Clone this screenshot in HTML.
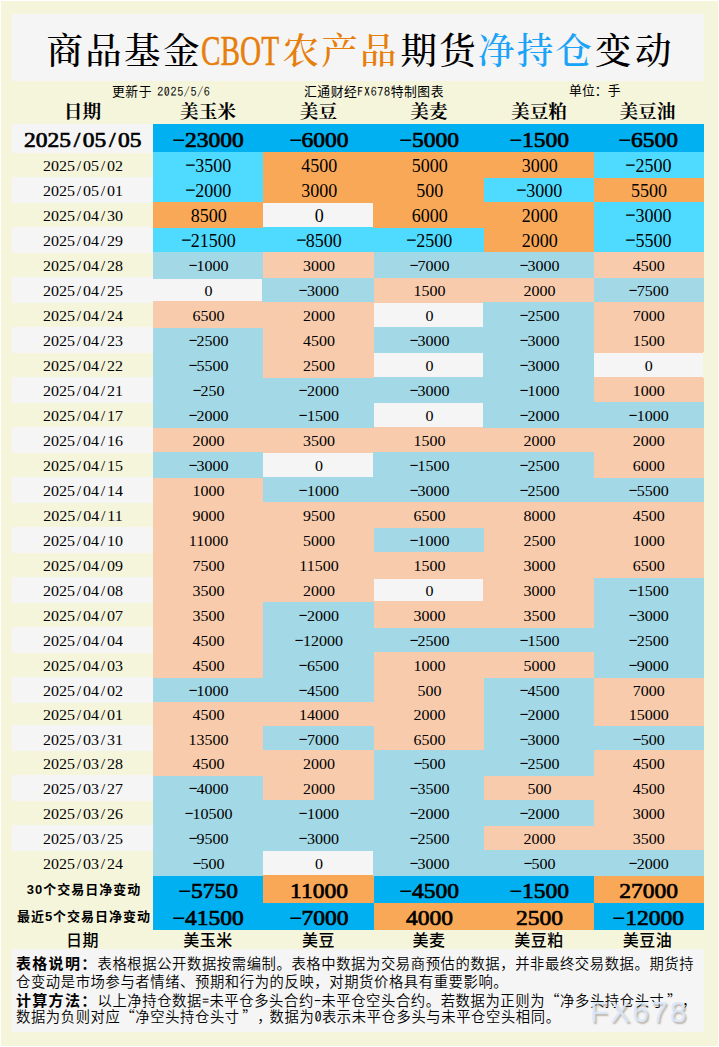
<!DOCTYPE html>
<html lang="zh-CN"><head><meta charset="utf-8"><title>商品基金CBOT农产品期货净持仓变动</title>
<style>
html,body{margin:0;padding:0}
body{width:719px;height:1047px;position:relative;overflow:hidden;background:#fff;color:#000;font-family:"Liberation Serif","Noto Serif CJK SC",serif}
#bg{position:absolute;left:1px;top:1px;width:717px;height:1045px;background:#f5f5dc}
.p{position:absolute;background:#f5f5f5}
.g{position:absolute}
.c{position:absolute;text-align:center;white-space:nowrap}
.t{position:absolute;white-space:nowrap}
.title{font-family:"Liberation Serif","Noto Serif CJK SC",serif;font-size:38.5px;line-height:44px;font-weight:500}
.sub{font-family:"Liberation Sans","Noto Sans CJK SC",sans-serif;font-size:12.8px;letter-spacing:.53px;line-height:16px}
.mo{font-family:"IPAGothic","Liberation Mono",monospace;font-size:12px;letter-spacing:.67px;margin-left:-1.5px}
u{text-decoration:none;font-family:"IPAGothic","Liberation Mono",monospace;line-height:0}
i{font-style:normal;display:inline-block;text-align:center;line-height:0}
.lab{font-family:"Liberation Serif","Noto Serif CJK SC",serif;font-weight:700;font-size:18.67px;line-height:22px}
.lab2{font-family:"Liberation Sans","Noto Sans CJK SC",sans-serif;font-weight:500;font-size:16px;letter-spacing:.5px;line-height:20px}
.h{font-weight:400;-webkit-text-stroke:.75px #000;font-size:23.5px}
.h u{-webkit-text-stroke:0;display:inline-block;width:11.75px;transform:scaleX(1.15);position:relative;top:1.5px}
.n1 u{display:inline-block;width:9px;transform:scaleX(1.2)}
.n u{display:inline-block;width:8px;transform:scaleX(1.15)}
.h i{width:11.75px}
.d{font-size:16px}
.d i{width:8px}
.n{font-size:16px}
.n1{font-size:18px}
.s{font-family:"Liberation Sans","Noto Sans CJK SC",sans-serif;font-weight:700;font-size:13px;letter-spacing:1px}
.B{background:#00b0f0}.C{background:#4fdbff}.O{background:#f9a857}.L{background:#a3d8e6}.P{background:#f8cbad}.W{background:#f5f5f5}.Y{background:#f5f5dc}
.note{text-spacing-trim:space-all;font-family:"Liberation Sans","Noto Sans CJK SC",sans-serif;font-size:14.3px;font-weight:350;line-height:18px;letter-spacing:.62px}
.note b{font-weight:700;font-size:15px;letter-spacing:1.3px}
.note u{display:inline-block;width:7.5px;text-align:center;letter-spacing:0}
q{line-height:0;quotes:none;font-family:"Noto Sans CJK SC",sans-serif;font-feature-settings:"fwid"}
q:before,q:after{content:none}
q.cl{position:relative;left:2.5px}
.wm{font-family:"Liberation Sans",sans-serif;font-size:30px;line-height:34px;letter-spacing:2px;color:rgba(216,231,250,.94);text-shadow:1.5px 1.5px 1.5px rgba(115,95,75,.42)}
</style></head><body>
<div id="bg"></div>

<div class="p" style="left:12px;top:14px;width:692px;height:67px"></div>
<div id="t1" class="t title" style="left:46.5px;top:30.4px;color:#000;font-size:36.5px;letter-spacing:2.3px">商品基金</div>
<div id="t2" class="t title" style="left:201px;top:29.4px;color:#e67f0b;font-size:41.5px;letter-spacing:0px;transform:scaleX(0.705);transform-origin:0 0;-webkit-text-stroke:.5px #e67f0b">CBOT</div>
<div id="t3" class="t title" style="left:282.5px;top:30.4px;color:#e67f0b;font-size:36.5px;letter-spacing:2.3px">农产品</div>
<div id="t4" class="t title" style="left:400.5px;top:30.4px;color:#000;font-size:36.5px;letter-spacing:2.3px">期货</div>
<div id="t5" class="t title" style="left:478.0px;top:30.4px;color:#1aa3f8;font-size:36.5px;letter-spacing:2.3px">净持仓</div>
<div id="t6" class="t title" style="left:595px;top:30.4px;color:#000;font-size:36.5px;letter-spacing:3.5px">变动</div>
<div id="s1" class="t sub" style="left:112px;top:83px">更新于<span class="mo"> 2025/5/6</span></div>
<div id="s2" class="t sub" style="left:304px;top:83px">汇通财经<span class="mo" style="margin:0">FX678</span>特制图表</div>
<div id="s3" class="t sub" style="left:569px;top:83px;letter-spacing:.1px">单位：手</div>
<div id="tl0" class="c lab" style="left:12px;top:101px;width:141px">日期</div>
<div id="tl1" class="c lab" style="left:153px;top:101px;width:110px">美玉米</div>
<div id="tl2" class="c lab" style="left:263px;top:101px;width:111px">美豆</div>
<div id="tl3" class="c lab" style="left:374px;top:101px;width:110px">美麦</div>
<div id="tl4" class="c lab" style="left:484px;top:101px;width:110px">美豆粕</div>
<div id="tl5" class="c lab" style="left:592.4px;top:101px;width:110px">美豆油</div>
<div class="g W" style="left:12px;top:124px;width:141px;height:29px"></div>
<div class="g B" style="left:153px;top:124px;width:551px;height:28px"></div>
<div class="g C" style="left:153px;top:152px;width:110px;height:26px"></div>
<div class="g O" style="left:263px;top:152px;width:331px;height:26px"></div>
<div class="g C" style="left:594px;top:152px;width:110px;height:26px"></div>
<div class="g W" style="left:12px;top:177px;width:141px;height:26px"></div>
<div class="g C" style="left:153px;top:178px;width:110px;height:24px"></div>
<div class="g O" style="left:263px;top:178px;width:221px;height:24px"></div>
<div class="g C" style="left:484px;top:178px;width:110px;height:24px"></div>
<div class="g O" style="left:594px;top:178px;width:110px;height:24px"></div>
<div class="g O" style="left:153px;top:202px;width:110px;height:26px"></div>
<div class="g O" style="left:263px;top:202px;width:111px;height:1px"></div>
<div class="g C" style="left:263px;top:227px;width:111px;height:1px"></div>
<div class="g O" style="left:373px;top:202px;width:1px;height:26px"></div>
<div class="g W" style="left:263px;top:203px;width:110px;height:24px"></div>
<div class="g O" style="left:374px;top:202px;width:220px;height:26px"></div>
<div class="g C" style="left:594px;top:202px;width:110px;height:26px"></div>
<div class="g W" style="left:12px;top:227px;width:141px;height:26px"></div>
<div class="g C" style="left:153px;top:228px;width:331px;height:24px"></div>
<div class="g O" style="left:484px;top:228px;width:110px;height:24px"></div>
<div class="g C" style="left:594px;top:228px;width:110px;height:24px"></div>
<div class="g L" style="left:153px;top:252px;width:110px;height:26px"></div>
<div class="g P" style="left:263px;top:252px;width:111px;height:26px"></div>
<div class="g L" style="left:374px;top:252px;width:220px;height:26px"></div>
<div class="g P" style="left:594px;top:252px;width:110px;height:26px"></div>
<div class="g W" style="left:12px;top:277px;width:141px;height:26px"></div>
<div class="g L" style="left:153px;top:278px;width:110px;height:1px"></div>
<div class="g P" style="left:153px;top:301px;width:110px;height:1px"></div>
<div class="g L" style="left:262px;top:278px;width:1px;height:24px"></div>
<div class="g W" style="left:153px;top:279px;width:109px;height:22px"></div>
<div class="g L" style="left:263px;top:278px;width:111px;height:24px"></div>
<div class="g P" style="left:374px;top:278px;width:220px;height:24px"></div>
<div class="g L" style="left:594px;top:278px;width:110px;height:24px"></div>
<div class="g P" style="left:153px;top:302px;width:221px;height:26px"></div>
<div class="g P" style="left:374px;top:302px;width:110px;height:1px"></div>
<div class="g L" style="left:374px;top:327px;width:110px;height:1px"></div>
<div class="g L" style="left:483px;top:302px;width:1px;height:26px"></div>
<div class="g W" style="left:374px;top:303px;width:109px;height:24px"></div>
<div class="g L" style="left:484px;top:302px;width:110px;height:26px"></div>
<div class="g P" style="left:594px;top:302px;width:110px;height:26px"></div>
<div class="g W" style="left:12px;top:327px;width:141px;height:26px"></div>
<div class="g L" style="left:153px;top:328px;width:110px;height:24px"></div>
<div class="g P" style="left:263px;top:328px;width:111px;height:24px"></div>
<div class="g L" style="left:374px;top:328px;width:220px;height:24px"></div>
<div class="g P" style="left:594px;top:328px;width:110px;height:24px"></div>
<div class="g L" style="left:153px;top:352px;width:110px;height:26px"></div>
<div class="g P" style="left:263px;top:352px;width:111px;height:26px"></div>
<div class="g L" style="left:374px;top:352px;width:110px;height:1px"></div>
<div class="g L" style="left:374px;top:377px;width:110px;height:1px"></div>
<div class="g L" style="left:483px;top:352px;width:1px;height:26px"></div>
<div class="g W" style="left:374px;top:353px;width:109px;height:24px"></div>
<div class="g L" style="left:484px;top:352px;width:110px;height:26px"></div>
<div class="g P" style="left:594px;top:352px;width:110px;height:1px"></div>
<div class="g P" style="left:594px;top:377px;width:110px;height:1px"></div>
<div class="g Y" style="left:703px;top:352px;width:1px;height:26px"></div>
<div class="g W" style="left:594px;top:353px;width:109px;height:24px"></div>
<div class="g W" style="left:12px;top:377px;width:141px;height:26px"></div>
<div class="g L" style="left:153px;top:378px;width:441px;height:24px"></div>
<div class="g P" style="left:594px;top:378px;width:110px;height:24px"></div>
<div class="g L" style="left:153px;top:402px;width:221px;height:26px"></div>
<div class="g L" style="left:374px;top:402px;width:110px;height:1px"></div>
<div class="g P" style="left:374px;top:427px;width:110px;height:1px"></div>
<div class="g L" style="left:483px;top:402px;width:1px;height:26px"></div>
<div class="g W" style="left:374px;top:403px;width:109px;height:24px"></div>
<div class="g L" style="left:484px;top:402px;width:220px;height:26px"></div>
<div class="g W" style="left:12px;top:427px;width:141px;height:26px"></div>
<div class="g P" style="left:153px;top:428px;width:551px;height:24px"></div>
<div class="g L" style="left:153px;top:452px;width:110px;height:26px"></div>
<div class="g P" style="left:263px;top:452px;width:111px;height:1px"></div>
<div class="g L" style="left:263px;top:477px;width:111px;height:1px"></div>
<div class="g L" style="left:373px;top:452px;width:1px;height:26px"></div>
<div class="g W" style="left:263px;top:453px;width:110px;height:24px"></div>
<div class="g L" style="left:374px;top:452px;width:220px;height:26px"></div>
<div class="g P" style="left:594px;top:452px;width:110px;height:26px"></div>
<div class="g W" style="left:12px;top:477px;width:141px;height:26px"></div>
<div class="g P" style="left:153px;top:478px;width:110px;height:24px"></div>
<div class="g L" style="left:263px;top:478px;width:441px;height:24px"></div>
<div class="g P" style="left:153px;top:502px;width:551px;height:26px"></div>
<div class="g W" style="left:12px;top:527px;width:141px;height:26px"></div>
<div class="g P" style="left:153px;top:528px;width:221px;height:24px"></div>
<div class="g L" style="left:374px;top:528px;width:110px;height:24px"></div>
<div class="g P" style="left:484px;top:528px;width:220px;height:24px"></div>
<div class="g P" style="left:153px;top:552px;width:551px;height:26px"></div>
<div class="g W" style="left:12px;top:577px;width:141px;height:26px"></div>
<div class="g P" style="left:153px;top:578px;width:221px;height:24px"></div>
<div class="g P" style="left:374px;top:578px;width:110px;height:1px"></div>
<div class="g P" style="left:374px;top:601px;width:110px;height:1px"></div>
<div class="g P" style="left:483px;top:578px;width:1px;height:24px"></div>
<div class="g W" style="left:374px;top:579px;width:109px;height:22px"></div>
<div class="g P" style="left:484px;top:578px;width:110px;height:24px"></div>
<div class="g L" style="left:594px;top:578px;width:110px;height:24px"></div>
<div class="g P" style="left:153px;top:602px;width:110px;height:26px"></div>
<div class="g L" style="left:263px;top:602px;width:111px;height:26px"></div>
<div class="g P" style="left:374px;top:602px;width:220px;height:26px"></div>
<div class="g L" style="left:594px;top:602px;width:110px;height:26px"></div>
<div class="g W" style="left:12px;top:627px;width:141px;height:26px"></div>
<div class="g P" style="left:153px;top:628px;width:110px;height:24px"></div>
<div class="g L" style="left:263px;top:628px;width:441px;height:24px"></div>
<div class="g P" style="left:153px;top:652px;width:110px;height:26px"></div>
<div class="g L" style="left:263px;top:652px;width:111px;height:26px"></div>
<div class="g P" style="left:374px;top:652px;width:220px;height:26px"></div>
<div class="g L" style="left:594px;top:652px;width:110px;height:26px"></div>
<div class="g W" style="left:12px;top:677px;width:141px;height:26px"></div>
<div class="g L" style="left:153px;top:678px;width:221px;height:24px"></div>
<div class="g P" style="left:374px;top:678px;width:110px;height:24px"></div>
<div class="g L" style="left:484px;top:678px;width:110px;height:24px"></div>
<div class="g P" style="left:594px;top:678px;width:110px;height:24px"></div>
<div class="g P" style="left:153px;top:702px;width:331px;height:24px"></div>
<div class="g L" style="left:484px;top:702px;width:110px;height:24px"></div>
<div class="g P" style="left:594px;top:702px;width:110px;height:24px"></div>
<div class="g W" style="left:12px;top:725px;width:141px;height:26px"></div>
<div class="g P" style="left:153px;top:726px;width:110px;height:24px"></div>
<div class="g L" style="left:263px;top:726px;width:111px;height:24px"></div>
<div class="g P" style="left:374px;top:726px;width:110px;height:24px"></div>
<div class="g L" style="left:484px;top:726px;width:220px;height:24px"></div>
<div class="g P" style="left:153px;top:750px;width:221px;height:26px"></div>
<div class="g L" style="left:374px;top:750px;width:220px;height:26px"></div>
<div class="g P" style="left:594px;top:750px;width:110px;height:26px"></div>
<div class="g W" style="left:12px;top:775px;width:141px;height:26px"></div>
<div class="g L" style="left:153px;top:776px;width:110px;height:24px"></div>
<div class="g P" style="left:263px;top:776px;width:111px;height:24px"></div>
<div class="g L" style="left:374px;top:776px;width:110px;height:24px"></div>
<div class="g P" style="left:484px;top:776px;width:220px;height:24px"></div>
<div class="g L" style="left:153px;top:800px;width:441px;height:26px"></div>
<div class="g P" style="left:594px;top:800px;width:110px;height:26px"></div>
<div class="g W" style="left:12px;top:825px;width:141px;height:26px"></div>
<div class="g L" style="left:153px;top:826px;width:331px;height:24px"></div>
<div class="g P" style="left:484px;top:826px;width:220px;height:24px"></div>
<div class="g L" style="left:153px;top:850px;width:110px;height:26px"></div>
<div class="g L" style="left:263px;top:850px;width:111px;height:1px"></div>
<div class="g O" style="left:263px;top:875px;width:111px;height:1px"></div>
<div class="g L" style="left:373px;top:850px;width:1px;height:26px"></div>
<div class="g W" style="left:263px;top:851px;width:110px;height:24px"></div>
<div class="g L" style="left:374px;top:850px;width:330px;height:26px"></div>
<div class="g B" style="left:153px;top:876px;width:110px;height:27px"></div>
<div class="g O" style="left:263px;top:876px;width:111px;height:27px"></div>
<div class="g B" style="left:374px;top:876px;width:110px;height:27px"></div>
<div class="g B" style="left:484px;top:876px;width:110px;height:27px"></div>
<div class="g O" style="left:594px;top:876px;width:110px;height:27px"></div>
<div class="g B" style="left:153px;top:903px;width:110px;height:27px"></div>
<div class="g B" style="left:263px;top:903px;width:111px;height:27px"></div>
<div class="g O" style="left:374px;top:903px;width:110px;height:27px"></div>
<div class="g O" style="left:484px;top:903px;width:110px;height:27px"></div>
<div class="g B" style="left:594px;top:903px;width:110px;height:27px"></div>
<div id="hd" class="c h" style="left:-17.2px;top:124.97px;width:200px;line-height:28px;transform:scaleY(0.9);transform-origin:50% 21.93px">2025<i>/</i>05<i>/</i>05</div>
<div id="h0" class="c h" style="left:108.5px;top:124.97px;width:200px;line-height:28px;transform:scaleY(0.9);transform-origin:50% 21.93px"><u>-</u>23000</div>
<div id="h1" class="c h" style="left:219.0px;top:124.97px;width:200px;line-height:28px;transform:scaleY(0.9);transform-origin:50% 21.93px"><u>-</u>6000</div>
<div id="h2" class="c h" style="left:329.5px;top:124.97px;width:200px;line-height:28px;transform:scaleY(0.9);transform-origin:50% 21.93px"><u>-</u>5000</div>
<div id="h3" class="c h" style="left:439.5px;top:124.97px;width:200px;line-height:28px;transform:scaleY(0.9);transform-origin:50% 21.93px"><u>-</u>1500</div>
<div id="h4" class="c h" style="left:548.7px;top:124.97px;width:200px;line-height:28px;transform:scaleY(0.9);transform-origin:50% 21.93px"><u>-</u>6500</div>
<div id="d0" class="c d" style="left:-17.0px;top:155.70px;width:200px;line-height:20px;transform:scaleY(0.92);transform-origin:50% 15.40px">2025<i>/</i>05<i>/</i>02</div>
<div id="n0_0" class="c n1" style="left:108.7px;top:155.43px;width:200px;line-height:22px"><u>-</u>3500</div>
<div id="n0_1" class="c n1" style="left:219.2px;top:155.43px;width:200px;line-height:22px">4500</div>
<div id="n0_2" class="c n1" style="left:329.7px;top:155.43px;width:200px;line-height:22px">5000</div>
<div id="n0_3" class="c n1" style="left:439.7px;top:155.43px;width:200px;line-height:22px">3000</div>
<div id="n0_4" class="c n1" style="left:548.9px;top:155.43px;width:200px;line-height:22px"><u>-</u>2500</div>
<div id="d1" class="c d" style="left:-17.0px;top:180.70px;width:200px;line-height:20px;transform:scaleY(0.92);transform-origin:50% 15.40px">2025<i>/</i>05<i>/</i>01</div>
<div id="n1_0" class="c n1" style="left:108.7px;top:180.43px;width:200px;line-height:22px"><u>-</u>2000</div>
<div id="n1_1" class="c n1" style="left:219.2px;top:180.43px;width:200px;line-height:22px">3000</div>
<div id="n1_2" class="c n1" style="left:329.7px;top:180.43px;width:200px;line-height:22px">500</div>
<div id="n1_3" class="c n1" style="left:439.7px;top:180.43px;width:200px;line-height:22px"><u>-</u>3000</div>
<div id="n1_4" class="c n1" style="left:548.9px;top:180.43px;width:200px;line-height:22px">5500</div>
<div id="d2" class="c d" style="left:-17.0px;top:205.70px;width:200px;line-height:20px;transform:scaleY(0.92);transform-origin:50% 15.40px">2025<i>/</i>04<i>/</i>30</div>
<div id="n2_0" class="c n1" style="left:108.7px;top:205.43px;width:200px;line-height:22px">8500</div>
<div id="n2_1" class="c n1" style="left:219.2px;top:205.43px;width:200px;line-height:22px">0</div>
<div id="n2_2" class="c n1" style="left:329.7px;top:205.43px;width:200px;line-height:22px">6000</div>
<div id="n2_3" class="c n1" style="left:439.7px;top:205.43px;width:200px;line-height:22px">2000</div>
<div id="n2_4" class="c n1" style="left:548.9px;top:205.43px;width:200px;line-height:22px"><u>-</u>3000</div>
<div id="d3" class="c d" style="left:-17.0px;top:230.70px;width:200px;line-height:20px;transform:scaleY(0.92);transform-origin:50% 15.40px">2025<i>/</i>04<i>/</i>29</div>
<div id="n3_0" class="c n1" style="left:108.7px;top:230.43px;width:200px;line-height:22px"><u>-</u>21500</div>
<div id="n3_1" class="c n1" style="left:219.2px;top:230.43px;width:200px;line-height:22px"><u>-</u>8500</div>
<div id="n3_2" class="c n1" style="left:329.7px;top:230.43px;width:200px;line-height:22px"><u>-</u>2500</div>
<div id="n3_3" class="c n1" style="left:439.7px;top:230.43px;width:200px;line-height:22px">2000</div>
<div id="n3_4" class="c n1" style="left:548.9px;top:230.43px;width:200px;line-height:22px"><u>-</u>5500</div>
<div id="d4" class="c d" style="left:-17.0px;top:255.70px;width:200px;line-height:20px;transform:scaleY(0.92);transform-origin:50% 15.40px">2025<i>/</i>04<i>/</i>28</div>
<div id="n4_0" class="c n" style="left:108.5px;top:255.70px;width:200px;line-height:20px;transform:scaleY(0.92);transform-origin:50% 15.40px"><u>-</u>1000</div>
<div id="n4_1" class="c n" style="left:219.0px;top:255.70px;width:200px;line-height:20px;transform:scaleY(0.92);transform-origin:50% 15.40px">3000</div>
<div id="n4_2" class="c n" style="left:329.5px;top:255.70px;width:200px;line-height:20px;transform:scaleY(0.92);transform-origin:50% 15.40px"><u>-</u>7000</div>
<div id="n4_3" class="c n" style="left:439.5px;top:255.70px;width:200px;line-height:20px;transform:scaleY(0.92);transform-origin:50% 15.40px"><u>-</u>3000</div>
<div id="n4_4" class="c n" style="left:548.7px;top:255.70px;width:200px;line-height:20px;transform:scaleY(0.92);transform-origin:50% 15.40px">4500</div>
<div id="d5" class="c d" style="left:-17.0px;top:280.70px;width:200px;line-height:20px;transform:scaleY(0.92);transform-origin:50% 15.40px">2025<i>/</i>04<i>/</i>25</div>
<div id="n5_0" class="c n" style="left:108.5px;top:280.70px;width:200px;line-height:20px;transform:scaleY(0.92);transform-origin:50% 15.40px">0</div>
<div id="n5_1" class="c n" style="left:219.0px;top:280.70px;width:200px;line-height:20px;transform:scaleY(0.92);transform-origin:50% 15.40px"><u>-</u>3000</div>
<div id="n5_2" class="c n" style="left:329.5px;top:280.70px;width:200px;line-height:20px;transform:scaleY(0.92);transform-origin:50% 15.40px">1500</div>
<div id="n5_3" class="c n" style="left:439.5px;top:280.70px;width:200px;line-height:20px;transform:scaleY(0.92);transform-origin:50% 15.40px">2000</div>
<div id="n5_4" class="c n" style="left:548.7px;top:280.70px;width:200px;line-height:20px;transform:scaleY(0.92);transform-origin:50% 15.40px"><u>-</u>7500</div>
<div id="d6" class="c d" style="left:-17.0px;top:305.70px;width:200px;line-height:20px;transform:scaleY(0.92);transform-origin:50% 15.40px">2025<i>/</i>04<i>/</i>24</div>
<div id="n6_0" class="c n" style="left:108.5px;top:305.70px;width:200px;line-height:20px;transform:scaleY(0.92);transform-origin:50% 15.40px">6500</div>
<div id="n6_1" class="c n" style="left:219.0px;top:305.70px;width:200px;line-height:20px;transform:scaleY(0.92);transform-origin:50% 15.40px">2000</div>
<div id="n6_2" class="c n" style="left:329.5px;top:305.70px;width:200px;line-height:20px;transform:scaleY(0.92);transform-origin:50% 15.40px">0</div>
<div id="n6_3" class="c n" style="left:439.5px;top:305.70px;width:200px;line-height:20px;transform:scaleY(0.92);transform-origin:50% 15.40px"><u>-</u>2500</div>
<div id="n6_4" class="c n" style="left:548.7px;top:305.70px;width:200px;line-height:20px;transform:scaleY(0.92);transform-origin:50% 15.40px">7000</div>
<div id="d7" class="c d" style="left:-17.0px;top:330.70px;width:200px;line-height:20px;transform:scaleY(0.92);transform-origin:50% 15.40px">2025<i>/</i>04<i>/</i>23</div>
<div id="n7_0" class="c n" style="left:108.5px;top:330.70px;width:200px;line-height:20px;transform:scaleY(0.92);transform-origin:50% 15.40px"><u>-</u>2500</div>
<div id="n7_1" class="c n" style="left:219.0px;top:330.70px;width:200px;line-height:20px;transform:scaleY(0.92);transform-origin:50% 15.40px">4500</div>
<div id="n7_2" class="c n" style="left:329.5px;top:330.70px;width:200px;line-height:20px;transform:scaleY(0.92);transform-origin:50% 15.40px"><u>-</u>3000</div>
<div id="n7_3" class="c n" style="left:439.5px;top:330.70px;width:200px;line-height:20px;transform:scaleY(0.92);transform-origin:50% 15.40px"><u>-</u>3000</div>
<div id="n7_4" class="c n" style="left:548.7px;top:330.70px;width:200px;line-height:20px;transform:scaleY(0.92);transform-origin:50% 15.40px">1500</div>
<div id="d8" class="c d" style="left:-17.0px;top:355.70px;width:200px;line-height:20px;transform:scaleY(0.92);transform-origin:50% 15.40px">2025<i>/</i>04<i>/</i>22</div>
<div id="n8_0" class="c n" style="left:108.5px;top:355.70px;width:200px;line-height:20px;transform:scaleY(0.92);transform-origin:50% 15.40px"><u>-</u>5500</div>
<div id="n8_1" class="c n" style="left:219.0px;top:355.70px;width:200px;line-height:20px;transform:scaleY(0.92);transform-origin:50% 15.40px">2500</div>
<div id="n8_2" class="c n" style="left:329.5px;top:355.70px;width:200px;line-height:20px;transform:scaleY(0.92);transform-origin:50% 15.40px">0</div>
<div id="n8_3" class="c n" style="left:439.5px;top:355.70px;width:200px;line-height:20px;transform:scaleY(0.92);transform-origin:50% 15.40px"><u>-</u>3000</div>
<div id="n8_4" class="c n" style="left:548.7px;top:355.70px;width:200px;line-height:20px;transform:scaleY(0.92);transform-origin:50% 15.40px">0</div>
<div id="d9" class="c d" style="left:-17.0px;top:380.70px;width:200px;line-height:20px;transform:scaleY(0.92);transform-origin:50% 15.40px">2025<i>/</i>04<i>/</i>21</div>
<div id="n9_0" class="c n" style="left:108.5px;top:380.70px;width:200px;line-height:20px;transform:scaleY(0.92);transform-origin:50% 15.40px"><u>-</u>250</div>
<div id="n9_1" class="c n" style="left:219.0px;top:380.70px;width:200px;line-height:20px;transform:scaleY(0.92);transform-origin:50% 15.40px"><u>-</u>2000</div>
<div id="n9_2" class="c n" style="left:329.5px;top:380.70px;width:200px;line-height:20px;transform:scaleY(0.92);transform-origin:50% 15.40px"><u>-</u>3000</div>
<div id="n9_3" class="c n" style="left:439.5px;top:380.70px;width:200px;line-height:20px;transform:scaleY(0.92);transform-origin:50% 15.40px"><u>-</u>1000</div>
<div id="n9_4" class="c n" style="left:548.7px;top:380.70px;width:200px;line-height:20px;transform:scaleY(0.92);transform-origin:50% 15.40px">1000</div>
<div id="d10" class="c d" style="left:-17.0px;top:405.70px;width:200px;line-height:20px;transform:scaleY(0.92);transform-origin:50% 15.40px">2025<i>/</i>04<i>/</i>17</div>
<div id="n10_0" class="c n" style="left:108.5px;top:405.70px;width:200px;line-height:20px;transform:scaleY(0.92);transform-origin:50% 15.40px"><u>-</u>2000</div>
<div id="n10_1" class="c n" style="left:219.0px;top:405.70px;width:200px;line-height:20px;transform:scaleY(0.92);transform-origin:50% 15.40px"><u>-</u>1500</div>
<div id="n10_2" class="c n" style="left:329.5px;top:405.70px;width:200px;line-height:20px;transform:scaleY(0.92);transform-origin:50% 15.40px">0</div>
<div id="n10_3" class="c n" style="left:439.5px;top:405.70px;width:200px;line-height:20px;transform:scaleY(0.92);transform-origin:50% 15.40px"><u>-</u>2000</div>
<div id="n10_4" class="c n" style="left:548.7px;top:405.70px;width:200px;line-height:20px;transform:scaleY(0.92);transform-origin:50% 15.40px"><u>-</u>1000</div>
<div id="d11" class="c d" style="left:-17.0px;top:430.70px;width:200px;line-height:20px;transform:scaleY(0.92);transform-origin:50% 15.40px">2025<i>/</i>04<i>/</i>16</div>
<div id="n11_0" class="c n" style="left:108.5px;top:430.70px;width:200px;line-height:20px;transform:scaleY(0.92);transform-origin:50% 15.40px">2000</div>
<div id="n11_1" class="c n" style="left:219.0px;top:430.70px;width:200px;line-height:20px;transform:scaleY(0.92);transform-origin:50% 15.40px">3500</div>
<div id="n11_2" class="c n" style="left:329.5px;top:430.70px;width:200px;line-height:20px;transform:scaleY(0.92);transform-origin:50% 15.40px">1500</div>
<div id="n11_3" class="c n" style="left:439.5px;top:430.70px;width:200px;line-height:20px;transform:scaleY(0.92);transform-origin:50% 15.40px">2000</div>
<div id="n11_4" class="c n" style="left:548.7px;top:430.70px;width:200px;line-height:20px;transform:scaleY(0.92);transform-origin:50% 15.40px">2000</div>
<div id="d12" class="c d" style="left:-17.0px;top:455.70px;width:200px;line-height:20px;transform:scaleY(0.92);transform-origin:50% 15.40px">2025<i>/</i>04<i>/</i>15</div>
<div id="n12_0" class="c n" style="left:108.5px;top:455.70px;width:200px;line-height:20px;transform:scaleY(0.92);transform-origin:50% 15.40px"><u>-</u>3000</div>
<div id="n12_1" class="c n" style="left:219.0px;top:455.70px;width:200px;line-height:20px;transform:scaleY(0.92);transform-origin:50% 15.40px">0</div>
<div id="n12_2" class="c n" style="left:329.5px;top:455.70px;width:200px;line-height:20px;transform:scaleY(0.92);transform-origin:50% 15.40px"><u>-</u>1500</div>
<div id="n12_3" class="c n" style="left:439.5px;top:455.70px;width:200px;line-height:20px;transform:scaleY(0.92);transform-origin:50% 15.40px"><u>-</u>2500</div>
<div id="n12_4" class="c n" style="left:548.7px;top:455.70px;width:200px;line-height:20px;transform:scaleY(0.92);transform-origin:50% 15.40px">6000</div>
<div id="d13" class="c d" style="left:-17.0px;top:480.70px;width:200px;line-height:20px;transform:scaleY(0.92);transform-origin:50% 15.40px">2025<i>/</i>04<i>/</i>14</div>
<div id="n13_0" class="c n" style="left:108.5px;top:480.70px;width:200px;line-height:20px;transform:scaleY(0.92);transform-origin:50% 15.40px">1000</div>
<div id="n13_1" class="c n" style="left:219.0px;top:480.70px;width:200px;line-height:20px;transform:scaleY(0.92);transform-origin:50% 15.40px"><u>-</u>1000</div>
<div id="n13_2" class="c n" style="left:329.5px;top:480.70px;width:200px;line-height:20px;transform:scaleY(0.92);transform-origin:50% 15.40px"><u>-</u>3000</div>
<div id="n13_3" class="c n" style="left:439.5px;top:480.70px;width:200px;line-height:20px;transform:scaleY(0.92);transform-origin:50% 15.40px"><u>-</u>2500</div>
<div id="n13_4" class="c n" style="left:548.7px;top:480.70px;width:200px;line-height:20px;transform:scaleY(0.92);transform-origin:50% 15.40px"><u>-</u>5500</div>
<div id="d14" class="c d" style="left:-17.0px;top:505.70px;width:200px;line-height:20px;transform:scaleY(0.92);transform-origin:50% 15.40px">2025<i>/</i>04<i>/</i>11</div>
<div id="n14_0" class="c n" style="left:108.5px;top:505.70px;width:200px;line-height:20px;transform:scaleY(0.92);transform-origin:50% 15.40px">9000</div>
<div id="n14_1" class="c n" style="left:219.0px;top:505.70px;width:200px;line-height:20px;transform:scaleY(0.92);transform-origin:50% 15.40px">9500</div>
<div id="n14_2" class="c n" style="left:329.5px;top:505.70px;width:200px;line-height:20px;transform:scaleY(0.92);transform-origin:50% 15.40px">6500</div>
<div id="n14_3" class="c n" style="left:439.5px;top:505.70px;width:200px;line-height:20px;transform:scaleY(0.92);transform-origin:50% 15.40px">8000</div>
<div id="n14_4" class="c n" style="left:548.7px;top:505.70px;width:200px;line-height:20px;transform:scaleY(0.92);transform-origin:50% 15.40px">4500</div>
<div id="d15" class="c d" style="left:-17.0px;top:530.70px;width:200px;line-height:20px;transform:scaleY(0.92);transform-origin:50% 15.40px">2025<i>/</i>04<i>/</i>10</div>
<div id="n15_0" class="c n" style="left:108.5px;top:530.70px;width:200px;line-height:20px;transform:scaleY(0.92);transform-origin:50% 15.40px">11000</div>
<div id="n15_1" class="c n" style="left:219.0px;top:530.70px;width:200px;line-height:20px;transform:scaleY(0.92);transform-origin:50% 15.40px">5000</div>
<div id="n15_2" class="c n" style="left:329.5px;top:530.70px;width:200px;line-height:20px;transform:scaleY(0.92);transform-origin:50% 15.40px"><u>-</u>1000</div>
<div id="n15_3" class="c n" style="left:439.5px;top:530.70px;width:200px;line-height:20px;transform:scaleY(0.92);transform-origin:50% 15.40px">2500</div>
<div id="n15_4" class="c n" style="left:548.7px;top:530.70px;width:200px;line-height:20px;transform:scaleY(0.92);transform-origin:50% 15.40px">1000</div>
<div id="d16" class="c d" style="left:-17.0px;top:555.70px;width:200px;line-height:20px;transform:scaleY(0.92);transform-origin:50% 15.40px">2025<i>/</i>04<i>/</i>09</div>
<div id="n16_0" class="c n" style="left:108.5px;top:555.70px;width:200px;line-height:20px;transform:scaleY(0.92);transform-origin:50% 15.40px">7500</div>
<div id="n16_1" class="c n" style="left:219.0px;top:555.70px;width:200px;line-height:20px;transform:scaleY(0.92);transform-origin:50% 15.40px">11500</div>
<div id="n16_2" class="c n" style="left:329.5px;top:555.70px;width:200px;line-height:20px;transform:scaleY(0.92);transform-origin:50% 15.40px">1500</div>
<div id="n16_3" class="c n" style="left:439.5px;top:555.70px;width:200px;line-height:20px;transform:scaleY(0.92);transform-origin:50% 15.40px">3000</div>
<div id="n16_4" class="c n" style="left:548.7px;top:555.70px;width:200px;line-height:20px;transform:scaleY(0.92);transform-origin:50% 15.40px">6500</div>
<div id="d17" class="c d" style="left:-17.0px;top:580.70px;width:200px;line-height:20px;transform:scaleY(0.92);transform-origin:50% 15.40px">2025<i>/</i>04<i>/</i>08</div>
<div id="n17_0" class="c n" style="left:108.5px;top:580.70px;width:200px;line-height:20px;transform:scaleY(0.92);transform-origin:50% 15.40px">3500</div>
<div id="n17_1" class="c n" style="left:219.0px;top:580.70px;width:200px;line-height:20px;transform:scaleY(0.92);transform-origin:50% 15.40px">2000</div>
<div id="n17_2" class="c n" style="left:329.5px;top:580.70px;width:200px;line-height:20px;transform:scaleY(0.92);transform-origin:50% 15.40px">0</div>
<div id="n17_3" class="c n" style="left:439.5px;top:580.70px;width:200px;line-height:20px;transform:scaleY(0.92);transform-origin:50% 15.40px">3000</div>
<div id="n17_4" class="c n" style="left:548.7px;top:580.70px;width:200px;line-height:20px;transform:scaleY(0.92);transform-origin:50% 15.40px"><u>-</u>1500</div>
<div id="d18" class="c d" style="left:-17.0px;top:605.70px;width:200px;line-height:20px;transform:scaleY(0.92);transform-origin:50% 15.40px">2025<i>/</i>04<i>/</i>07</div>
<div id="n18_0" class="c n" style="left:108.5px;top:605.70px;width:200px;line-height:20px;transform:scaleY(0.92);transform-origin:50% 15.40px">3500</div>
<div id="n18_1" class="c n" style="left:219.0px;top:605.70px;width:200px;line-height:20px;transform:scaleY(0.92);transform-origin:50% 15.40px"><u>-</u>2000</div>
<div id="n18_2" class="c n" style="left:329.5px;top:605.70px;width:200px;line-height:20px;transform:scaleY(0.92);transform-origin:50% 15.40px">3000</div>
<div id="n18_3" class="c n" style="left:439.5px;top:605.70px;width:200px;line-height:20px;transform:scaleY(0.92);transform-origin:50% 15.40px">3500</div>
<div id="n18_4" class="c n" style="left:548.7px;top:605.70px;width:200px;line-height:20px;transform:scaleY(0.92);transform-origin:50% 15.40px"><u>-</u>3000</div>
<div id="d19" class="c d" style="left:-17.0px;top:630.70px;width:200px;line-height:20px;transform:scaleY(0.92);transform-origin:50% 15.40px">2025<i>/</i>04<i>/</i>04</div>
<div id="n19_0" class="c n" style="left:108.5px;top:630.70px;width:200px;line-height:20px;transform:scaleY(0.92);transform-origin:50% 15.40px">4500</div>
<div id="n19_1" class="c n" style="left:219.0px;top:630.70px;width:200px;line-height:20px;transform:scaleY(0.92);transform-origin:50% 15.40px"><u>-</u>12000</div>
<div id="n19_2" class="c n" style="left:329.5px;top:630.70px;width:200px;line-height:20px;transform:scaleY(0.92);transform-origin:50% 15.40px"><u>-</u>2500</div>
<div id="n19_3" class="c n" style="left:439.5px;top:630.70px;width:200px;line-height:20px;transform:scaleY(0.92);transform-origin:50% 15.40px"><u>-</u>1500</div>
<div id="n19_4" class="c n" style="left:548.7px;top:630.70px;width:200px;line-height:20px;transform:scaleY(0.92);transform-origin:50% 15.40px"><u>-</u>2500</div>
<div id="d20" class="c d" style="left:-17.0px;top:655.70px;width:200px;line-height:20px;transform:scaleY(0.92);transform-origin:50% 15.40px">2025<i>/</i>04<i>/</i>03</div>
<div id="n20_0" class="c n" style="left:108.5px;top:655.70px;width:200px;line-height:20px;transform:scaleY(0.92);transform-origin:50% 15.40px">4500</div>
<div id="n20_1" class="c n" style="left:219.0px;top:655.70px;width:200px;line-height:20px;transform:scaleY(0.92);transform-origin:50% 15.40px"><u>-</u>6500</div>
<div id="n20_2" class="c n" style="left:329.5px;top:655.70px;width:200px;line-height:20px;transform:scaleY(0.92);transform-origin:50% 15.40px">1000</div>
<div id="n20_3" class="c n" style="left:439.5px;top:655.70px;width:200px;line-height:20px;transform:scaleY(0.92);transform-origin:50% 15.40px">5000</div>
<div id="n20_4" class="c n" style="left:548.7px;top:655.70px;width:200px;line-height:20px;transform:scaleY(0.92);transform-origin:50% 15.40px"><u>-</u>9000</div>
<div id="d21" class="c d" style="left:-17.0px;top:680.70px;width:200px;line-height:20px;transform:scaleY(0.92);transform-origin:50% 15.40px">2025<i>/</i>04<i>/</i>02</div>
<div id="n21_0" class="c n" style="left:108.5px;top:680.70px;width:200px;line-height:20px;transform:scaleY(0.92);transform-origin:50% 15.40px"><u>-</u>1000</div>
<div id="n21_1" class="c n" style="left:219.0px;top:680.70px;width:200px;line-height:20px;transform:scaleY(0.92);transform-origin:50% 15.40px"><u>-</u>4500</div>
<div id="n21_2" class="c n" style="left:329.5px;top:680.70px;width:200px;line-height:20px;transform:scaleY(0.92);transform-origin:50% 15.40px">500</div>
<div id="n21_3" class="c n" style="left:439.5px;top:680.70px;width:200px;line-height:20px;transform:scaleY(0.92);transform-origin:50% 15.40px"><u>-</u>4500</div>
<div id="n21_4" class="c n" style="left:548.7px;top:680.70px;width:200px;line-height:20px;transform:scaleY(0.92);transform-origin:50% 15.40px">7000</div>
<div id="d22" class="c d" style="left:-17.0px;top:704.70px;width:200px;line-height:20px;transform:scaleY(0.92);transform-origin:50% 15.40px">2025<i>/</i>04<i>/</i>01</div>
<div id="n22_0" class="c n" style="left:108.5px;top:704.70px;width:200px;line-height:20px;transform:scaleY(0.92);transform-origin:50% 15.40px">4500</div>
<div id="n22_1" class="c n" style="left:219.0px;top:704.70px;width:200px;line-height:20px;transform:scaleY(0.92);transform-origin:50% 15.40px">14000</div>
<div id="n22_2" class="c n" style="left:329.5px;top:704.70px;width:200px;line-height:20px;transform:scaleY(0.92);transform-origin:50% 15.40px">2000</div>
<div id="n22_3" class="c n" style="left:439.5px;top:704.70px;width:200px;line-height:20px;transform:scaleY(0.92);transform-origin:50% 15.40px"><u>-</u>2000</div>
<div id="n22_4" class="c n" style="left:548.7px;top:704.70px;width:200px;line-height:20px;transform:scaleY(0.92);transform-origin:50% 15.40px">15000</div>
<div id="d23" class="c d" style="left:-17.0px;top:729.70px;width:200px;line-height:20px;transform:scaleY(0.92);transform-origin:50% 15.40px">2025<i>/</i>03<i>/</i>31</div>
<div id="n23_0" class="c n" style="left:108.5px;top:729.70px;width:200px;line-height:20px;transform:scaleY(0.92);transform-origin:50% 15.40px">13500</div>
<div id="n23_1" class="c n" style="left:219.0px;top:729.70px;width:200px;line-height:20px;transform:scaleY(0.92);transform-origin:50% 15.40px"><u>-</u>7000</div>
<div id="n23_2" class="c n" style="left:329.5px;top:729.70px;width:200px;line-height:20px;transform:scaleY(0.92);transform-origin:50% 15.40px">6500</div>
<div id="n23_3" class="c n" style="left:439.5px;top:729.70px;width:200px;line-height:20px;transform:scaleY(0.92);transform-origin:50% 15.40px"><u>-</u>3000</div>
<div id="n23_4" class="c n" style="left:548.7px;top:729.70px;width:200px;line-height:20px;transform:scaleY(0.92);transform-origin:50% 15.40px"><u>-</u>500</div>
<div id="d24" class="c d" style="left:-17.0px;top:753.70px;width:200px;line-height:20px;transform:scaleY(0.92);transform-origin:50% 15.40px">2025<i>/</i>03<i>/</i>28</div>
<div id="n24_0" class="c n" style="left:108.5px;top:753.70px;width:200px;line-height:20px;transform:scaleY(0.92);transform-origin:50% 15.40px">4500</div>
<div id="n24_1" class="c n" style="left:219.0px;top:753.70px;width:200px;line-height:20px;transform:scaleY(0.92);transform-origin:50% 15.40px">2000</div>
<div id="n24_2" class="c n" style="left:329.5px;top:753.70px;width:200px;line-height:20px;transform:scaleY(0.92);transform-origin:50% 15.40px"><u>-</u>500</div>
<div id="n24_3" class="c n" style="left:439.5px;top:753.70px;width:200px;line-height:20px;transform:scaleY(0.92);transform-origin:50% 15.40px"><u>-</u>2500</div>
<div id="n24_4" class="c n" style="left:548.7px;top:753.70px;width:200px;line-height:20px;transform:scaleY(0.92);transform-origin:50% 15.40px">4500</div>
<div id="d25" class="c d" style="left:-17.0px;top:778.70px;width:200px;line-height:20px;transform:scaleY(0.92);transform-origin:50% 15.40px">2025<i>/</i>03<i>/</i>27</div>
<div id="n25_0" class="c n" style="left:108.5px;top:778.70px;width:200px;line-height:20px;transform:scaleY(0.92);transform-origin:50% 15.40px"><u>-</u>4000</div>
<div id="n25_1" class="c n" style="left:219.0px;top:778.70px;width:200px;line-height:20px;transform:scaleY(0.92);transform-origin:50% 15.40px">2000</div>
<div id="n25_2" class="c n" style="left:329.5px;top:778.70px;width:200px;line-height:20px;transform:scaleY(0.92);transform-origin:50% 15.40px"><u>-</u>3500</div>
<div id="n25_3" class="c n" style="left:439.5px;top:778.70px;width:200px;line-height:20px;transform:scaleY(0.92);transform-origin:50% 15.40px">500</div>
<div id="n25_4" class="c n" style="left:548.7px;top:778.70px;width:200px;line-height:20px;transform:scaleY(0.92);transform-origin:50% 15.40px">4500</div>
<div id="d26" class="c d" style="left:-17.0px;top:803.70px;width:200px;line-height:20px;transform:scaleY(0.92);transform-origin:50% 15.40px">2025<i>/</i>03<i>/</i>26</div>
<div id="n26_0" class="c n" style="left:108.5px;top:803.70px;width:200px;line-height:20px;transform:scaleY(0.92);transform-origin:50% 15.40px"><u>-</u>10500</div>
<div id="n26_1" class="c n" style="left:219.0px;top:803.70px;width:200px;line-height:20px;transform:scaleY(0.92);transform-origin:50% 15.40px"><u>-</u>1000</div>
<div id="n26_2" class="c n" style="left:329.5px;top:803.70px;width:200px;line-height:20px;transform:scaleY(0.92);transform-origin:50% 15.40px"><u>-</u>2000</div>
<div id="n26_3" class="c n" style="left:439.5px;top:803.70px;width:200px;line-height:20px;transform:scaleY(0.92);transform-origin:50% 15.40px"><u>-</u>2000</div>
<div id="n26_4" class="c n" style="left:548.7px;top:803.70px;width:200px;line-height:20px;transform:scaleY(0.92);transform-origin:50% 15.40px">3000</div>
<div id="d27" class="c d" style="left:-17.0px;top:828.70px;width:200px;line-height:20px;transform:scaleY(0.92);transform-origin:50% 15.40px">2025<i>/</i>03<i>/</i>25</div>
<div id="n27_0" class="c n" style="left:108.5px;top:828.70px;width:200px;line-height:20px;transform:scaleY(0.92);transform-origin:50% 15.40px"><u>-</u>9500</div>
<div id="n27_1" class="c n" style="left:219.0px;top:828.70px;width:200px;line-height:20px;transform:scaleY(0.92);transform-origin:50% 15.40px"><u>-</u>3000</div>
<div id="n27_2" class="c n" style="left:329.5px;top:828.70px;width:200px;line-height:20px;transform:scaleY(0.92);transform-origin:50% 15.40px"><u>-</u>2500</div>
<div id="n27_3" class="c n" style="left:439.5px;top:828.70px;width:200px;line-height:20px;transform:scaleY(0.92);transform-origin:50% 15.40px">2000</div>
<div id="n27_4" class="c n" style="left:548.7px;top:828.70px;width:200px;line-height:20px;transform:scaleY(0.92);transform-origin:50% 15.40px">3500</div>
<div id="d28" class="c d" style="left:-17.0px;top:853.70px;width:200px;line-height:20px;transform:scaleY(0.92);transform-origin:50% 15.40px">2025<i>/</i>03<i>/</i>24</div>
<div id="n28_0" class="c n" style="left:108.5px;top:853.70px;width:200px;line-height:20px;transform:scaleY(0.92);transform-origin:50% 15.40px"><u>-</u>500</div>
<div id="n28_1" class="c n" style="left:219.0px;top:853.70px;width:200px;line-height:20px;transform:scaleY(0.92);transform-origin:50% 15.40px">0</div>
<div id="n28_2" class="c n" style="left:329.5px;top:853.70px;width:200px;line-height:20px;transform:scaleY(0.92);transform-origin:50% 15.40px"><u>-</u>3000</div>
<div id="n28_3" class="c n" style="left:439.5px;top:853.70px;width:200px;line-height:20px;transform:scaleY(0.92);transform-origin:50% 15.40px"><u>-</u>500</div>
<div id="n28_4" class="c n" style="left:548.7px;top:853.70px;width:200px;line-height:20px;transform:scaleY(0.92);transform-origin:50% 15.40px"><u>-</u>2000</div>
<div id="sl0" class="c s" style="left:13.5px;top:875.5px;width:141px;line-height:27px">30个交易日净变动</div>
<div id="s0_0" class="c h" style="left:108.5px;top:876.07px;width:200px;line-height:28px;transform:scaleY(0.9);transform-origin:50% 21.93px"><u>-</u>5750</div>
<div id="s0_1" class="c h" style="left:219.0px;top:876.07px;width:200px;line-height:28px;transform:scaleY(0.9);transform-origin:50% 21.93px">11000</div>
<div id="s0_2" class="c h" style="left:329.5px;top:876.07px;width:200px;line-height:28px;transform:scaleY(0.9);transform-origin:50% 21.93px"><u>-</u>4500</div>
<div id="s0_3" class="c h" style="left:439.5px;top:876.07px;width:200px;line-height:28px;transform:scaleY(0.9);transform-origin:50% 21.93px"><u>-</u>1500</div>
<div id="s0_4" class="c h" style="left:548.7px;top:876.07px;width:200px;line-height:28px;transform:scaleY(0.9);transform-origin:50% 21.93px">27000</div>
<div id="sl1" class="c s" style="left:13.5px;top:902.5px;width:141px;line-height:27px">最近5个交易日净变动</div>
<div id="s1_0" class="c h" style="left:108.5px;top:903.07px;width:200px;line-height:28px;transform:scaleY(0.9);transform-origin:50% 21.93px"><u>-</u>41500</div>
<div id="s1_1" class="c h" style="left:219.0px;top:903.07px;width:200px;line-height:28px;transform:scaleY(0.9);transform-origin:50% 21.93px"><u>-</u>7000</div>
<div id="s1_2" class="c h" style="left:329.5px;top:903.07px;width:200px;line-height:28px;transform:scaleY(0.9);transform-origin:50% 21.93px">4000</div>
<div id="s1_3" class="c h" style="left:439.5px;top:903.07px;width:200px;line-height:28px;transform:scaleY(0.9);transform-origin:50% 21.93px">2500</div>
<div id="s1_4" class="c h" style="left:548.7px;top:903.07px;width:200px;line-height:28px;transform:scaleY(0.9);transform-origin:50% 21.93px"><u>-</u>12000</div>
<div id="bl0" class="c lab2" style="left:12px;top:930.8px;width:141px">日期</div>
<div id="bl1" class="c lab2" style="left:153px;top:930.8px;width:110px">美玉米</div>
<div id="bl2" class="c lab2" style="left:263px;top:930.8px;width:111px">美豆</div>
<div id="bl3" class="c lab2" style="left:374px;top:930.8px;width:110px">美麦</div>
<div id="bl4" class="c lab2" style="left:484px;top:930.8px;width:110px">美豆粕</div>
<div id="bl5" class="c lab2" style="left:592.4px;top:930.8px;width:110px">美豆油</div>
<div class="p" style="left:12px;top:949px;width:692px;height:83px"></div>
<div id="nl0" class="t note" style="left:16px;top:955.3px"><b>表格说明：</b>表格根据公开数据按需编制。表格中数据为交易商预估的数据，并非最终交易数据。期货持</div>
<div id="nl1" class="t note" style="left:16px;top:972.5px">仓变动是市场参与者情绪、预期和行为的反映，对期货价格具有重要影响。</div>
<div id="nl2" class="t note" style="left:16px;top:991.6px"><b>计算方法：</b>以上净持仓数据<u>=</u>未平仓多头合约<u>-</u>未平仓空头合约。若数据为正则为<q>“</q>净多头持仓头寸<q class="cl">”，</q></div>
<div id="nl3" class="t note" style="left:16px;top:1008px">数据为负则对应<q>“</q>净空头持仓头寸<q class="cl">”，</q>数据为<u>0</u>表示未平仓多头与未平仓空头相同。</div>
<div id="wm" class="t wm" style="left:590px;top:995px">FX678</div>
</body></html>
